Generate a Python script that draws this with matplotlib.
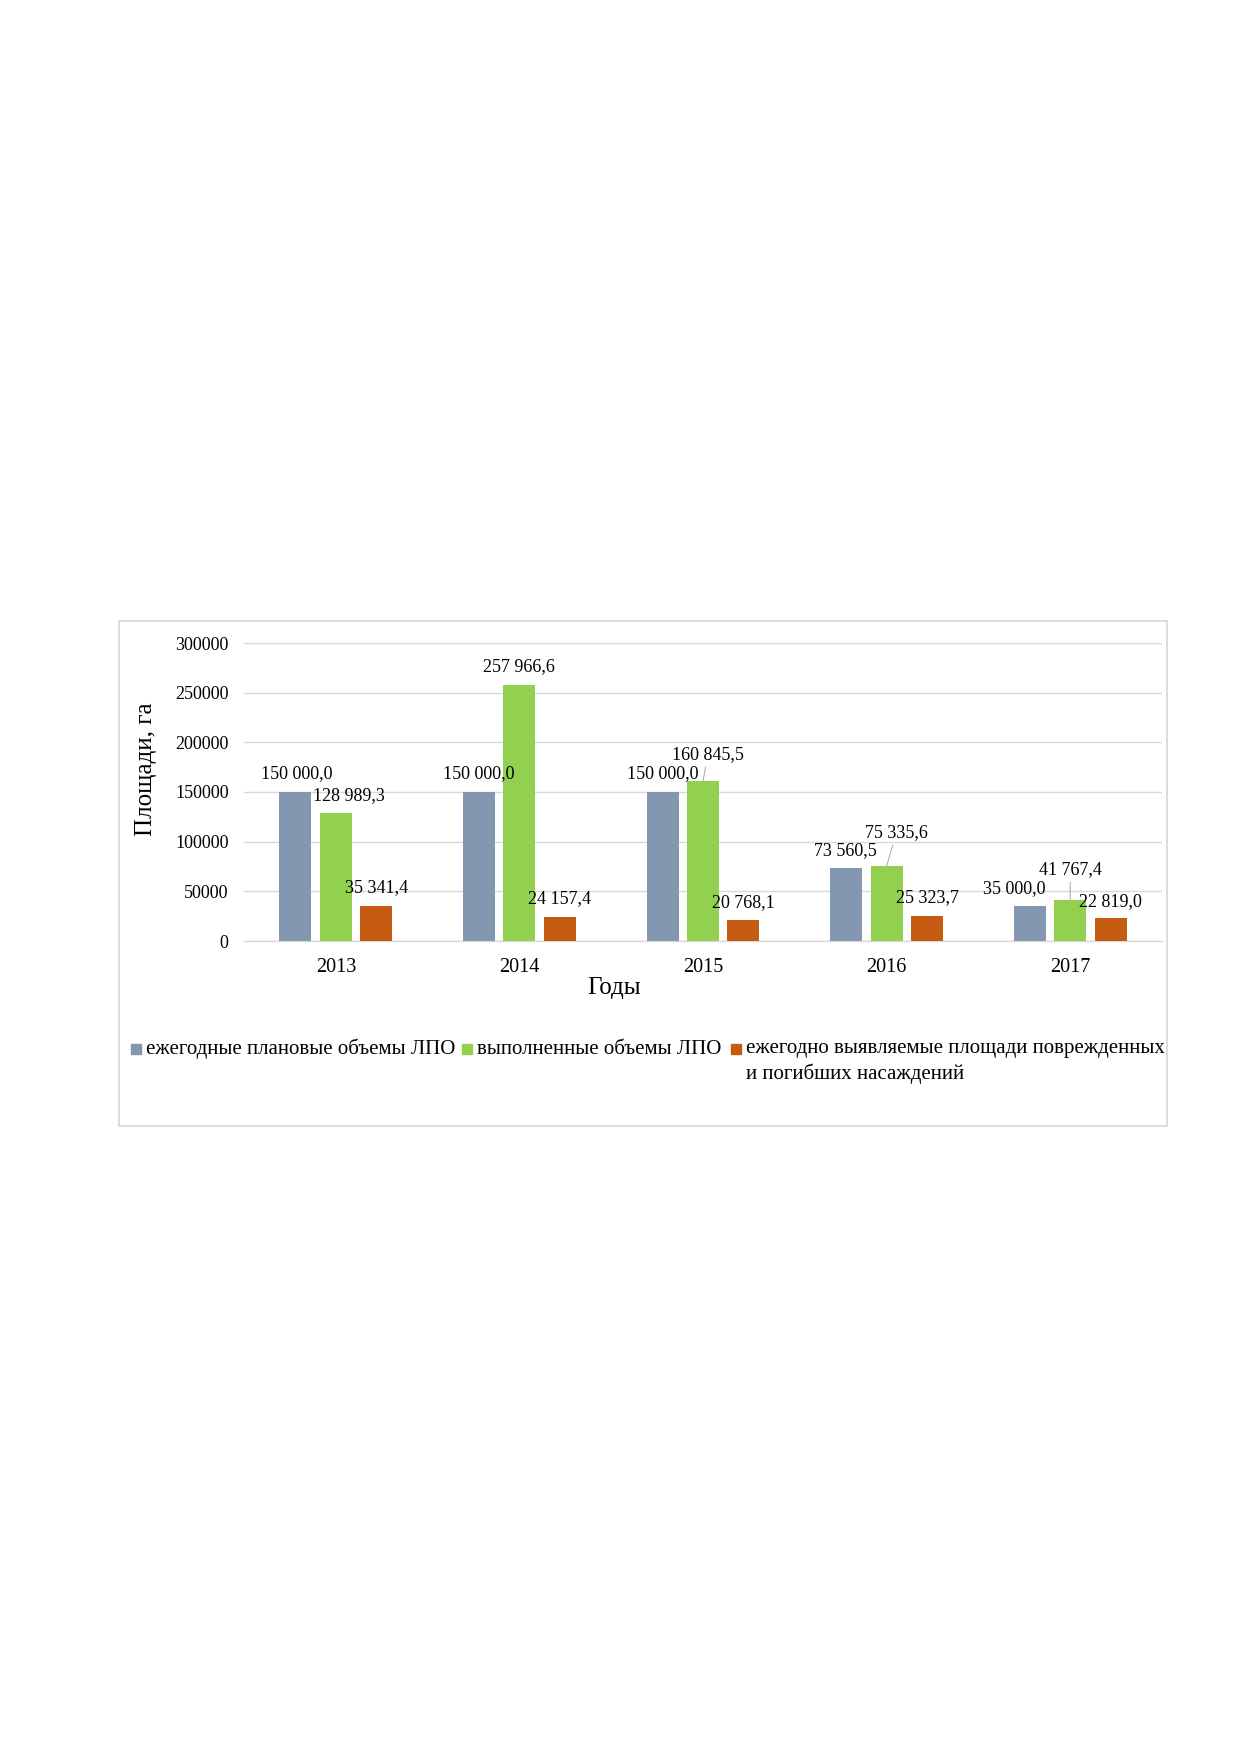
import matplotlib.pyplot as plt
from matplotlib.patches import Rectangle
import numpy as np

years = ['2013', '2014', '2015', '2016', '2017']
planned = [150000.0, 150000.0, 150000.0, 73560.5, 35000.0]
done = [128989.3, 257966.6, 160845.5, 75335.6, 41767.4]
damaged = [35341.4, 24157.4, 20768.1, 25323.7, 22819.0]
series_names = ['ежегодные плановые объемы ЛПО',
                'выполненные объемы ЛПО',
                'ежегодно выявляемые площади поврежденных\nи погибших насаждений']
COLORS = ['#8497B0', '#92D050', '#C55A11']

# label offsets (pixels) from bar top, manual like in the original
label_off = [
    [(1, 18), (0, 18), (0, 18), (-1, 17), (-16, 18)],
    [(13, 17), (0, 18), (5, 27), (10, 34), (0, 30)],
    [(0, 18), (0, 18), (0, 18), (0, 18), (0, 17)],
]
leader = [
    [False] * 5,
    [False, False, True, True, True],
    [False] * 5,
]

def fmt(v):
    s = f'{v:,.1f}'
    return s.replace(',', ' ').replace('.', ',')

plt.rcParams['font.family'] = ['Liberation Serif', 'DejaVu Serif']

W, H = 1240, 1754
fig = plt.figure(figsize=(W / 100, H / 100), dpi=100)
ax = fig.add_axes([244 / W, 1 - 941 / H, (1162 - 244) / W, (941 - 643) / H])

# outer chart frame
fig.patches.append(Rectangle((119 / W, 1 - 1126 / H), (1167 - 119) / W, (1126 - 621) / H,
                             transform=fig.transFigure, fill=False, ec='#D9D9D9', lw=1.3))

x = np.arange(len(years))
step = 0.22
bw = 0.174
all_vals = [planned, done, damaged]
for k, vals in enumerate(all_vals):
    xs = x + (k - 1) * step
    ax.bar(xs, vals, width=bw, color=COLORS[k], zorder=3)
    for i, v in enumerate(vals):
        dx, dy = label_off[k][i]
        arrow = None
        if leader[k][i]:
            arrow = dict(arrowstyle='-', color='#A6A6A6', lw=0.7, shrinkA=1, shrinkB=0)
        ax.annotate(fmt(v), xy=(xs[i], v), xytext=(dx, dy), textcoords='offset pixels',
                    ha='center', va='center', fontsize=13, zorder=6, arrowprops=arrow)

ax.set_xlim(-0.5, 4.5)
ax.set_ylim(0, 300000)
ax.set_yticks(np.arange(0, 300001, 50000))
ax.set_xticks(x)
ax.set_xticklabels(years, fontsize=14.5)
ax.tick_params(axis='y', length=0, pad=11, labelsize=13)
ax.tick_params(axis='x', length=0, pad=12)
ax.grid(axis='y', color='#D9D9D9', lw=1, zorder=0)
for s in ['top', 'right', 'left']:
    ax.spines[s].set_visible(False)
ax.spines['bottom'].set_color('#D9D9D9')
ax.spines['bottom'].set_linewidth(1)

ax.set_ylabel('Площади, га', fontsize=18, va='center')
ax.yaxis.set_label_coords((146 - 244) / 918, (941 - 769) / 298)
ax.set_xlabel('Годы', fontsize=18, va='center')
ax.xaxis.set_label_coords((614 - 244) / 918, (941 - 988) / 298)

# legend drawn by hand to keep Excel-like layout
leg_sq = [131, 462, 731]
leg_y = 1049
line_gap = 25
for k in range(3):
    fig.patches.append(Rectangle((leg_sq[k] / W, 1 - (leg_y + 5) / H), 10 / W, 10 / H,
                                 transform=fig.transFigure, color=COLORS[k]))
    for j, line in enumerate(series_names[k].split('\n')):
        fig.text((leg_sq[k] + 15) / W, 1 - (leg_y + j * line_gap) / H, line,
                 fontsize=15, ha='left', va='center')

fig.savefig('out.png', dpi=100)
